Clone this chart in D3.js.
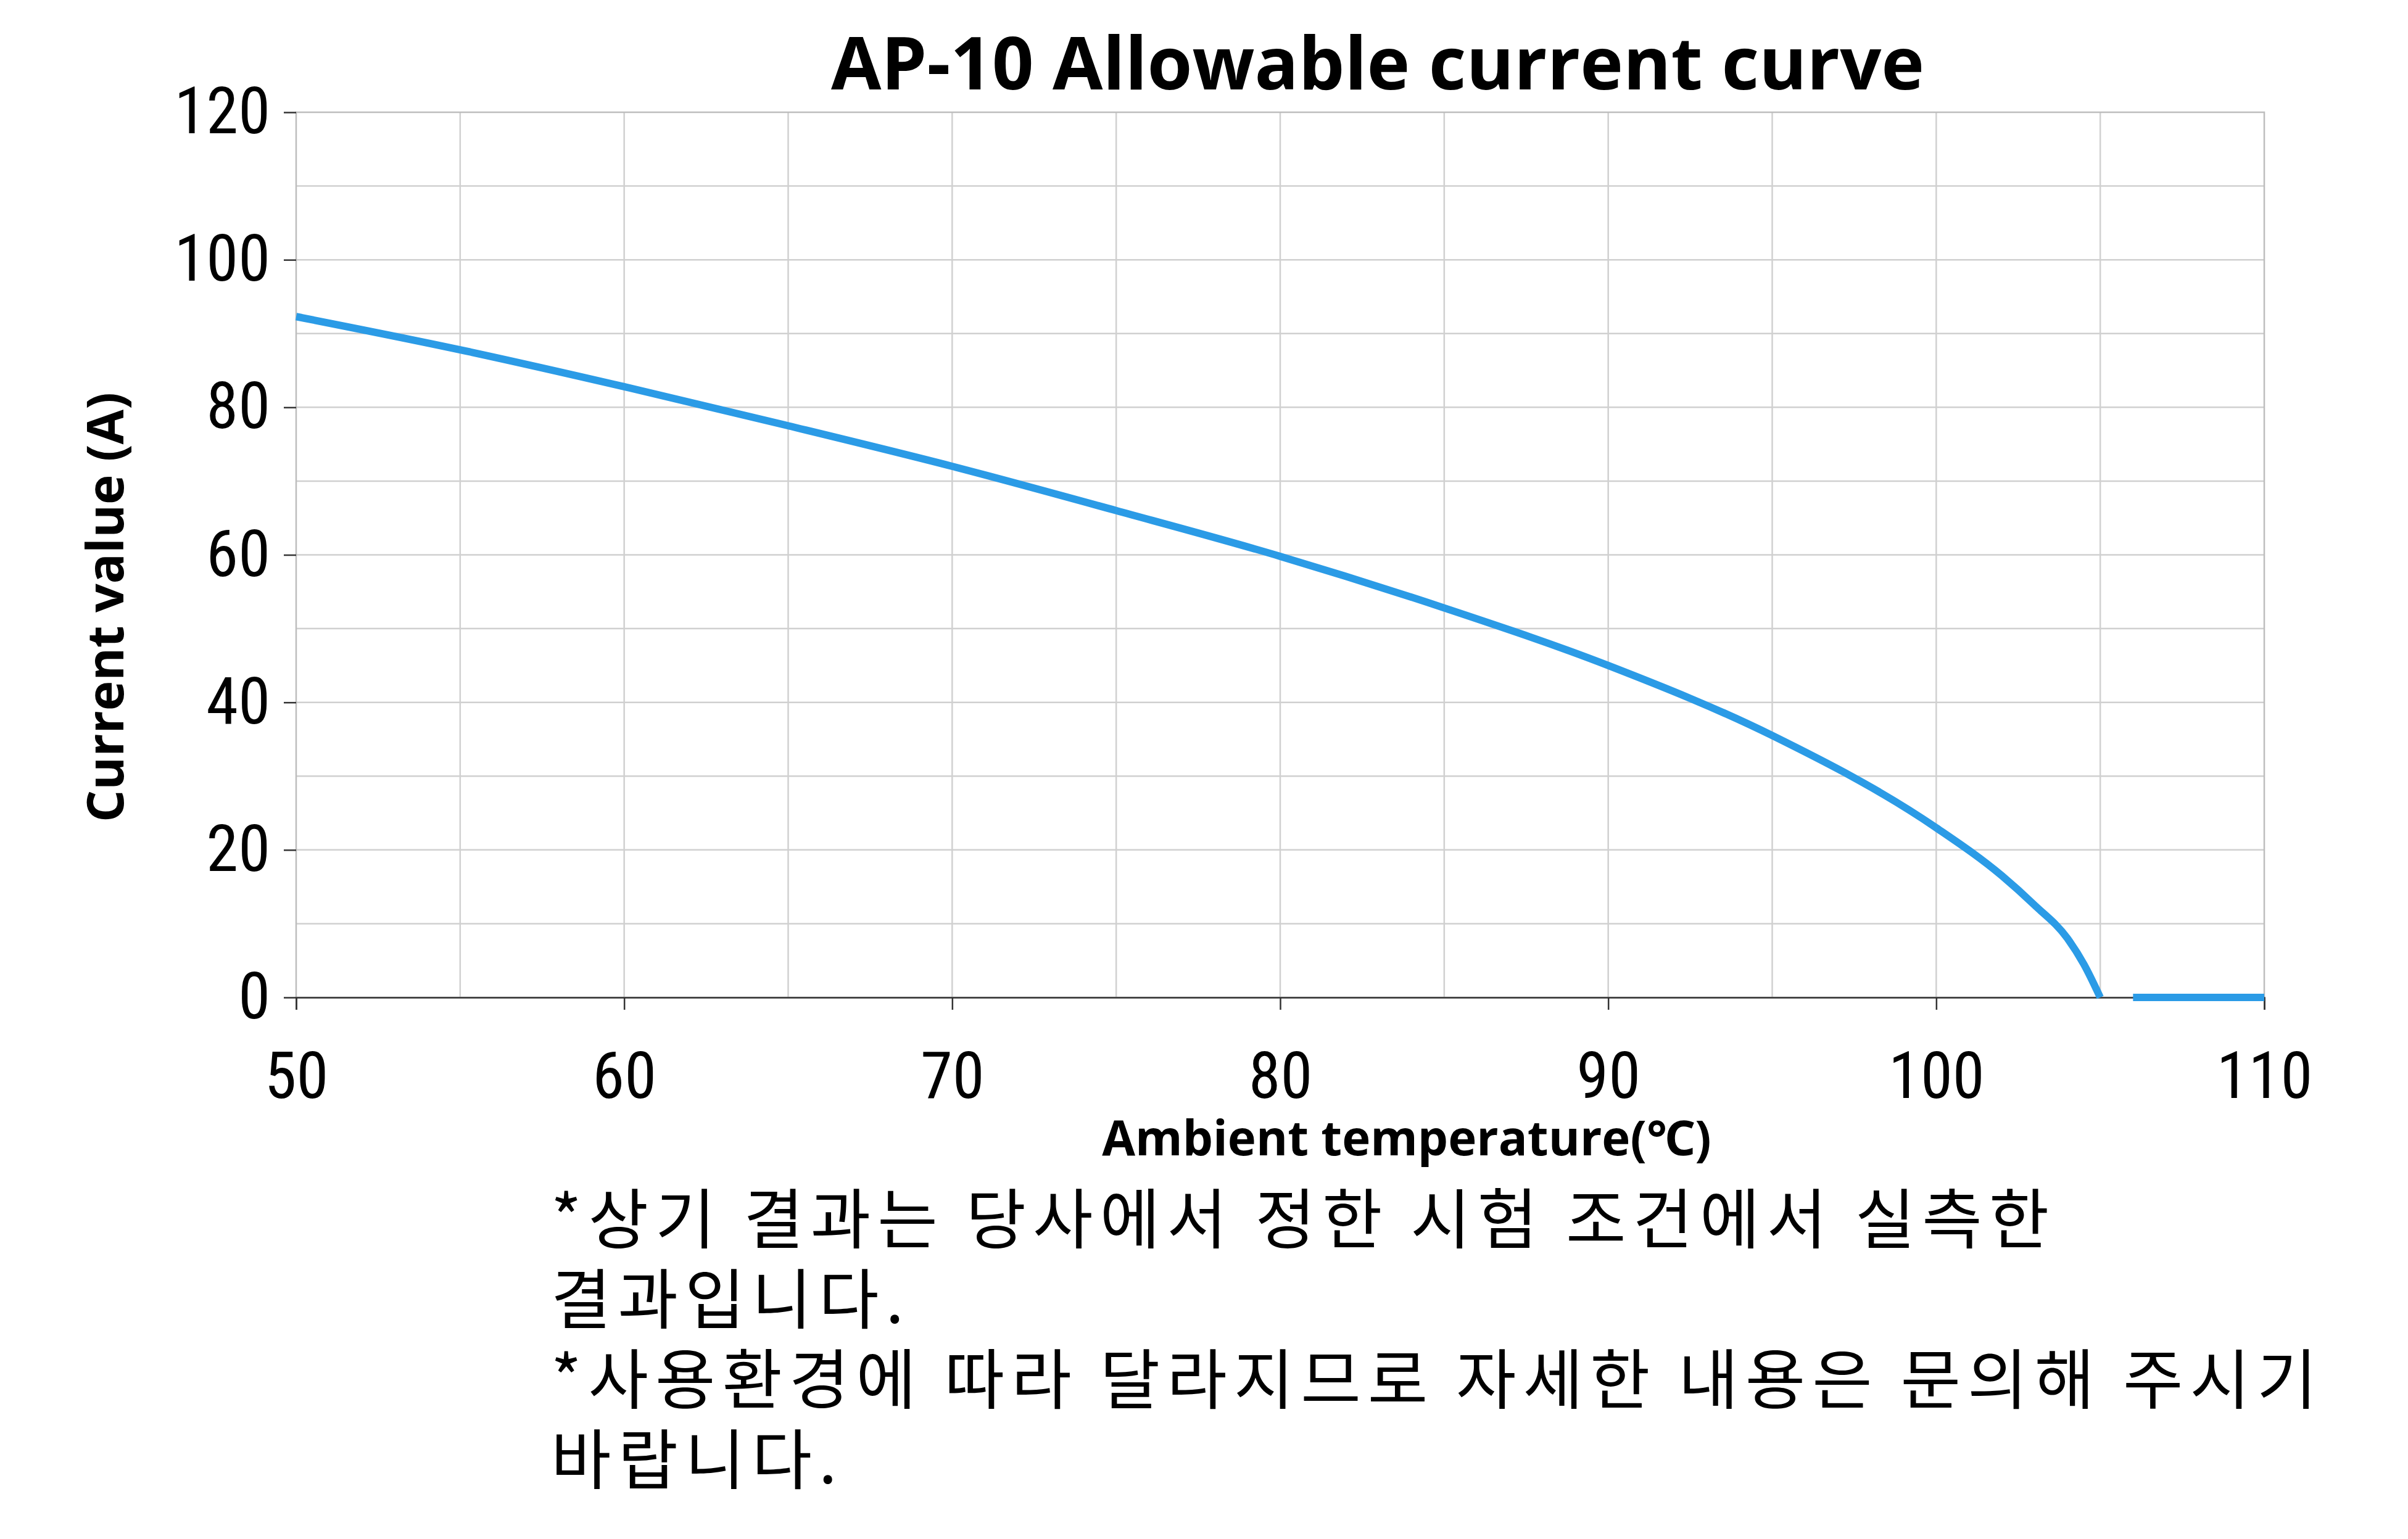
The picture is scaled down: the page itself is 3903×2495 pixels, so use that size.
<!DOCTYPE html>
<html><head><meta charset="utf-8">
<script src="https://cdn.jsdelivr.net/npm/d3@7"></script>
<style>body{margin:0;background:#fff}</style>
</head><body>
<svg id="c" width="3903" height="2495"></svg>
<script>
const temps = [50,55,60,65,70,75,80,85,90,95,100,102,103,104,104.5,105,null,106,110];
const currents = [92.3,87.8,82.8,77.5,72,66,59.8,52.8,45,35.5,23,16.5,12.5,8,4.5,0,null,0,0];
const xTicks = [50,60,70,80,90,100,110];
const yTicks = [0,20,40,60,80,100,120];
const notes = ["*상기 결과는 당사에서 정한 시험 조건에서 실측한","결과입니다.","*사용환경에 따라 달라지므로 자세한 내용은 문의해 주시기","바랍니다."];

const svg = d3.select("#c");
const L=480,R=3670,T=182,B=1617;
const x=d3.scaleLinear().domain([50,110]).range([L,R]);
const y=d3.scaleLinear().domain([0,120]).range([B,T]);
const num="'Liberation Sans Narrow','Roboto Condensed','Liberation Sans',sans-serif";
const g=svg.append("g");
d3.range(55,110,5).forEach(v=>g.append("line").attr("x1",x(v)).attr("x2",x(v)).attr("y1",T).attr("y2",B).attr("stroke","#d0d0d0").attr("stroke-width",2.5));
d3.range(10,120,10).forEach(v=>g.append("line").attr("x1",L).attr("x2",R).attr("y1",y(v)).attr("y2",y(v)).attr("stroke","#d0d0d0").attr("stroke-width",2.5));
svg.append("rect").attr("x",L).attr("y",T).attr("width",R-L).attr("height",B-T).attr("fill","none").attr("stroke","#bdbdbd").attr("stroke-width",2.5);
const xa=svg.append("g").attr("transform",`translate(0,${B})`).call(d3.axisBottom(x).tickValues(xTicks).tickSize(20).tickPadding(68));
const ya=svg.append("g").attr("transform",`translate(${L},0)`).call(d3.axisLeft(y).tickValues(yTicks).tickSize(20).tickPadding(22));
[xa,ya].forEach(a=>{a.selectAll("path,line").attr("stroke","#333").attr("stroke-width",2.5);a.selectAll("text").attr("font-family",num).attr("font-size",105).attr("fill","#000");});
ya.select(".domain").remove();
xa.select(".domain").attr("stroke","#333");
const pts=temps.map((t,i)=>[t,currents[i]]);
svg.append("path").datum(pts).attr("fill","none").attr("stroke","#2b9be6").attr("stroke-width",12)
 .attr("d",d3.line().defined(d=>d[0]!==null).x(d=>x(d[0])).y(d=>y(d[1])).curve(d3.curveMonotoneX));
const bold="'Open Sans','Noto Sans',sans-serif";
svg.append("text").attr("x",2233).attr("y",145).attr("text-anchor","middle").attr("font-family",bold).attr("font-weight",700).attr("font-size",118).text("AP-10 Allowable current curve");
svg.append("text").attr("transform",`translate(200,${(T+B)/2+85}) rotate(-90)`).attr("text-anchor","middle").attr("font-family",bold).attr("font-weight",700).attr("font-size",82).text("Current value (A)");
svg.append("text").attr("x",2280).attr("y",1873).attr("text-anchor","middle").attr("font-family",bold).attr("font-weight",700).attr("font-size",78).text("Ambient temperature(℃)");
const ys=[2015,2145,2275,2405];
notes.forEach((t,i)=>svg.append("text").attr("x",893).attr("y",ys[i]).attr("font-family","'Noto Sans CJK KR',sans-serif").attr("font-size",106).attr("letter-spacing",11).text(t));
</script></body></html>
